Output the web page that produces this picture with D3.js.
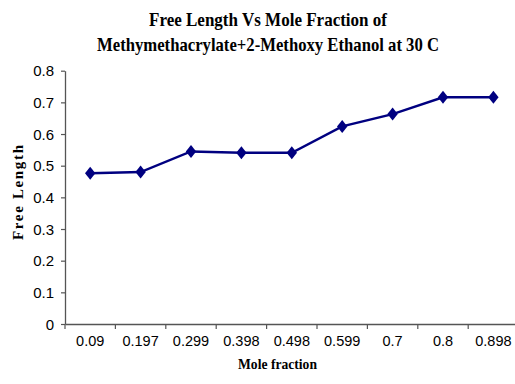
<!DOCTYPE html>
<html>
<head>
<meta charset="utf-8">
<script src="https://cdn.jsdelivr.net/npm/d3@7"></script>
<style>
  html, body { margin: 0; padding: 0; background: #fff; }
  svg { display: block; }
</style>
</head>
<body>
<svg id="chart" width="515" height="384"></svg>
<script>
const categories = ["0.09", "0.197", "0.299", "0.398", "0.498", "0.599", "0.7", "0.8", "0.898"];
const freeLength = [0.476, 0.480, 0.545, 0.541, 0.541, 0.624, 0.663, 0.716, 0.716];
const yTicks = [0, 0.1, 0.2, 0.3, 0.4, 0.5, 0.6, 0.7, 0.8];
const titleLines = ["Free Length Vs Mole Fraction of", "Methymethacrylate+2-Methoxy Ethanol at 30 C"];
const xTitle = "Mole fraction";
const yTitle = "Free Length";

const svg = d3.select("#chart");
const plotLeft = 65, plotRight = 518.6, plotTop = 70.7, plotBottom = 324;

const x = d3.scaleBand().domain(categories).range([plotLeft, plotRight]).padding(0);
const y = d3.scaleLinear().domain([0, 0.8]).range([plotBottom, plotTop]);

const axisColor = "#555";
const sans = "'Liberation Sans', Arial, sans-serif";
const serif = "'Liberation Serif', 'Times New Roman', serif";

// Y axis
const yAxis = svg.append("g")
  .attr("transform", `translate(${plotLeft},0)`)
  .call(d3.axisLeft(y).tickValues(yTicks).tickSize(4).tickSizeOuter(0).tickPadding(7).tickFormat(d => String(d)));
yAxis.select(".domain").attr("stroke", axisColor).attr("stroke-width", 1.3);
yAxis.selectAll(".tick line").attr("stroke", axisColor).attr("stroke-width", 1.2);
yAxis.selectAll(".tick text").attr("font-family", sans).attr("font-size", 15).attr("fill", "#000").attr("dy", "0.34em");

// X axis (labels centered on categories, ticks between categories)
const xAxis = svg.append("g")
  .attr("transform", `translate(0,${plotBottom})`)
  .call(d3.axisBottom(x).tickSize(0).tickSizeOuter(0).tickPadding(12));
xAxis.select(".domain").attr("stroke", axisColor).attr("stroke-width", 1.3);
xAxis.selectAll(".tick text").attr("font-family", sans).attr("font-size", 14.5).attr("fill", "#000");

const boundaries = categories.map(c => x(c)).concat([x(categories[categories.length - 1]) + x.bandwidth()]);
xAxis.selectAll("line.sep").data(boundaries).enter().append("line")
  .attr("class", "sep")
  .attr("x1", d => d).attr("x2", d => d)
  .attr("y1", 0).attr("y2", 5)
  .attr("stroke", axisColor).attr("stroke-width", 1.2);

// Line
const cx = c => x(c) + x.bandwidth() / 2;
const pts = categories.map((c, i) => [cx(c), y(freeLength[i])]);
svg.append("path")
  .attr("d", d3.line()(pts))
  .attr("fill", "none")
  .attr("stroke", "#000080")
  .attr("stroke-width", 2.4);

// Diamond markers
svg.selectAll("path.marker").data(pts).enter().append("path")
  .attr("class", "marker")
  .attr("d", "M0,-6.5L5.2,0L0,6.5L-5.2,0Z")
  .attr("transform", d => `translate(${d[0]},${d[1]})`)
  .attr("fill", "#000080");

// Titles
svg.append("text")
  .attr("x", 268).attr("y", 26)
  .attr("text-anchor", "middle")
  .attr("font-family", serif).attr("font-weight", "bold").attr("font-size", 19)
  .attr("textLength", 238).attr("lengthAdjust", "spacingAndGlyphs")
  .text(titleLines[0]);
svg.append("text")
  .attr("x", 268).attr("y", 50.5)
  .attr("text-anchor", "middle")
  .attr("font-family", serif).attr("font-weight", "bold").attr("font-size", 19)
  .attr("textLength", 342).attr("lengthAdjust", "spacingAndGlyphs")
  .text(titleLines[1]);

svg.append("text")
  .attr("x", 277.5).attr("y", 368.5)
  .attr("text-anchor", "middle")
  .attr("font-family", serif).attr("font-weight", "bold").attr("font-size", 15.5)
  .attr("textLength", 79).attr("lengthAdjust", "spacingAndGlyphs")
  .text(xTitle);

svg.append("text")
  .attr("transform", "translate(23,192.5) rotate(-90)")
  .attr("text-anchor", "middle")
  .attr("font-family", serif).attr("font-weight", "bold").attr("font-size", 15)
  .attr("textLength", 95).attr("lengthAdjust", "spacing")
  .text(yTitle);
</script>
</body>
</html>
